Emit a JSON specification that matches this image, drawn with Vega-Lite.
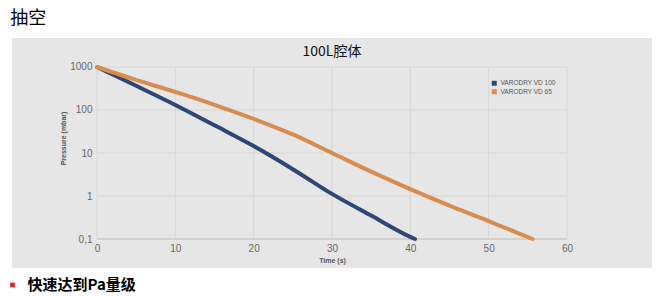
{
  "$schema": "https://vega.github.io/schema/vega-lite/v6.json",
  "background": "white",
  "padding": {"left": 10, "top": 10, "right": 0, "bottom": 0},
  "title": {"text": "抽空", "anchor": "start", "font": "Noto Sans CJK SC", "fontSize": 18, "fontWeight": "normal", "color": "#000", "offset": 10},
  "datasets": {
    "curves": [
      {"series": "VARODRY VD 100", "t": 0, "p": 1000},
      {"series": "VARODRY VD 100", "t": 5, "p": 365},
      {"series": "VARODRY VD 100", "t": 10, "p": 131},
      {"series": "VARODRY VD 100", "t": 15, "p": 44},
      {"series": "VARODRY VD 100", "t": 20, "p": 14.5},
      {"series": "VARODRY VD 100", "t": 25, "p": 4.2},
      {"series": "VARODRY VD 100", "t": 30, "p": 1.12},
      {"series": "VARODRY VD 100", "t": 35, "p": 0.35},
      {"series": "VARODRY VD 100", "t": 40, "p": 0.112},
      {"series": "VARODRY VD 100", "t": 40.6, "p": 0.1},
      {"series": "VARODRY VD 65", "t": 0, "p": 1000},
      {"series": "VARODRY VD 65", "t": 5, "p": 501},
      {"series": "VARODRY VD 65", "t": 10, "p": 263},
      {"series": "VARODRY VD 65", "t": 15, "p": 132},
      {"series": "VARODRY VD 65", "t": 20, "p": 62},
      {"series": "VARODRY VD 65", "t": 25, "p": 27},
      {"series": "VARODRY VD 65", "t": 30, "p": 10},
      {"series": "VARODRY VD 65", "t": 35, "p": 3.7},
      {"series": "VARODRY VD 65", "t": 40, "p": 1.45},
      {"series": "VARODRY VD 65", "t": 45, "p": 0.6},
      {"series": "VARODRY VD 65", "t": 50, "p": 0.26},
      {"series": "VARODRY VD 65", "t": 55.6, "p": 0.1}
    ],
    "vgrid": [{"t": 0}, {"t": 10}, {"t": 20}, {"t": 30}, {"t": 40}, {"t": 50}, {"t": 60}],
    "hgrid": [{"p": 0.1}, {"p": 1}, {"p": 10}, {"p": 100}, {"p": 1000}],
    "note": [{"label": "快速达到Pa量级"}]
  },
  "spacing": 10,
  "vconcat": [
    {
      "width": 640,
      "height": 230,
      "view": {"fill": "#e6e6e6", "stroke": null},
      "title": {"text": "100L腔体", "font": "Noto Sans CJK SC", "fontSize": 14, "fontWeight": "normal", "color": "#111", "offset": -21, "anchor": "middle"},
      "layer": [
        {
          "data": {"name": "vgrid"},
          "mark": {"type": "rule", "color": "#d6d6d6", "strokeWidth": 1},
          "encoding": {
            "x": {"field": "t", "type": "quantitative"},
            "y": {"datum": 0.1, "type": "quantitative"},
            "y2": {"datum": 1000}
          }
        },
        {
          "data": {"name": "hgrid"},
          "mark": {"type": "rule", "color": "#d6d6d6", "strokeWidth": 1},
          "encoding": {
            "y": {"field": "p", "type": "quantitative"},
            "x": {"datum": 0, "type": "quantitative"},
            "x2": {"datum": 60}
          }
        },
        {
          "data": {"values": [{"axis": "x"}]},
          "mark": {"type": "rule", "color": "#c4c4c4", "strokeWidth": 1},
          "encoding": {
            "y": {"datum": 0.1, "type": "quantitative"},
            "x": {"datum": 0, "type": "quantitative"},
            "x2": {"datum": 60}
          }
        },
        {
          "data": {"name": "curves"},
          "mark": {"type": "line", "strokeWidth": 4, "interpolate": "monotone", "strokeCap": "round"},
          "encoding": {
            "x": {
              "field": "t", "type": "quantitative",
              "scale": {"domain": [-10.85, 70.85], "nice": false, "zero": false},
              "axis": {"values": [0, 10, 20, 30, 40, 50, 60], "grid": false, "domain": false, "ticks": false, "offset": -29,
                "labelFont": "Liberation Sans", "labelFontSize": 10, "labelColor": "#666", "labelPadding": 4,
                "title": "Time (s)", "titleFont": "Liberation Sans", "titleFontSize": 7, "titleFontWeight": "bold", "titleColor": "#555", "titlePadding": 3}
            },
            "y": {
              "field": "p", "type": "quantitative",
              "scale": {"type": "log", "domain": [0.02117, 4724], "nice": false},
              "axis": {"values": [0.1, 1, 10, 100, 1000], "grid": false, "domain": false, "ticks": false, "offset": -85,
                "labelExpr": "datum.value < 1 ? '0,1' : format(datum.value, 'd')",
                "labelFont": "Liberation Sans", "labelFontSize": 10, "labelColor": "#666", "labelPadding": 5,
                "title": "Pressure (mbar)", "titleFont": "Liberation Sans", "titleFontSize": 7, "titleFontWeight": "bold", "titleColor": "#555", "titlePadding": 3, "titleY": 100}
            },
            "color": {
              "field": "series", "type": "nominal",
              "scale": {"domain": ["VARODRY VD 100", "VARODRY VD 65"], "range": ["#2b4677", "#da8c4c"]},
              "legend": {"orient": "none", "legendX": 479, "legendY": 42, "title": null, "symbolType": "square", "symbolSize": 25,
                "labelFont": "Liberation Sans", "labelFontSize": 6.5, "labelColor": "#555", "labelOffset": 3, "rowPadding": 1.5, "padding": 0,
                "encode": {"symbols": {"update": {"fill": {"scale": "color", "field": "value"}, "fillOpacity": {"value": 1}, "strokeWidth": {"value": 0}}}}}
            }
          }
        }
      ]
    },
    {
      "spacing": 12,
      "hconcat": [
        {
          "width": 1, "height": 14,
          "data": {"name": "note"},
          "mark": {"type": "square", "color": "#e3211c", "size": 22, "opacity": 1},
          "encoding": {}
        },
        {
          "width": 1, "height": 14,
          "data": {"name": "note"},
          "mark": {"type": "text", "align": "left", "baseline": "middle", "font": "Noto Sans CJK SC", "fontSize": 15, "fontWeight": "bold", "color": "#000"},
          "encoding": {"text": {"field": "label", "type": "nominal"}}
        }
      ]
    }
  ],
  "config": {"view": {"stroke": null}}
}
